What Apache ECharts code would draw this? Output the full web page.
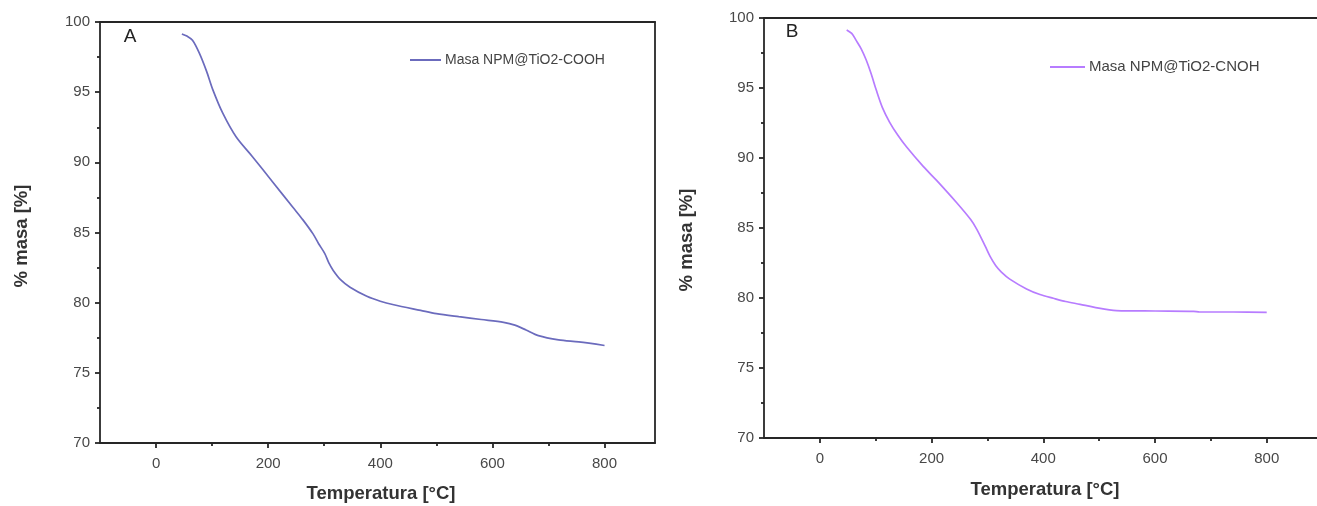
<!DOCTYPE html>
<html>
<head>
<meta charset="utf-8">
<title>TGA NPM@TiO2</title>
<script src="https://cdn.jsdelivr.net/npm/echarts@6/dist/echarts.min.js"></script>
<style>
  html, body { margin: 0; padding: 0; background: #ffffff; }
  #chart { width: 1317px; height: 506px; }
</style>
</head>
<body>
<div id="chart"></div>
<script>
// Thermogravimetric curves: temperature [°C] vs. remaining mass [%]
const seriesNameA = 'Masa NPM@TiO2-COOH';
const seriesNameB = 'Masa NPM@TiO2-CNOH';

const tempA = [46, 55, 65, 77, 90, 101, 119, 143, 172, 208, 244, 262, 280, 290, 301, 308, 316, 330, 346, 376, 400, 424, 472, 500, 540, 580, 620, 640, 660, 682, 718, 754, 800];
const massA = [99.15, 99.0, 98.7, 97.8, 96.5, 95.2, 93.5, 91.8, 90.4, 88.6, 86.8, 85.9, 84.9, 84.2, 83.5, 82.85, 82.3, 81.6, 81.1, 80.45, 80.1, 79.85, 79.45, 79.22, 79.0, 78.8, 78.6, 78.4, 78.05, 77.65, 77.35, 77.2, 76.95];

const tempB = [48, 57, 65, 74, 83, 92, 101, 112, 125, 140, 155, 185, 209, 245, 270, 281, 296, 305, 315, 325, 340, 370, 394, 418, 440, 466, 490, 531, 600, 669, 680, 740, 800];
const massB = [99.15, 98.9, 98.4, 97.8, 97.0, 96.0, 94.85, 93.6, 92.55, 91.6, 90.8, 89.4, 88.4, 86.8, 85.6, 84.9, 83.7, 82.95, 82.3, 81.85, 81.35, 80.65, 80.25, 79.98, 79.75, 79.55, 79.35, 79.1, 79.07, 79.05, 79.0, 79.0, 78.98];

const xMajorTicks = [0, 200, 400, 600, 800];
const xMinorTicks = [100, 300, 500, 700];
const xRange = [-100, 890];
const yRange = [70, 100];
const yStep = 5;

const xTitle = 'Temperatura [°C]';
const yTitle = '% masa [%]';
const panelLabels = ['A', 'B'];

const colorA = '#6b6bbd';
const colorB = '#b77cff';
const axisColor = '#262626';
const labelColor = '#484848';
const titleColor = '#333333';
const font = '"Liberation Sans", Arial, sans-serif';

function zip(xs, ys) { return xs.map((x, i) => [x, ys[i]]); }

const grids = [
  { left: 100, top: 22, width: 555, height: 421 },
  { left: 764, top: 18, width: 553, height: 420 }
];

const xAxes = [];
const yAxes = [];
grids.forEach((g, gi) => {
  // bottom axis: major ticks with labels
  xAxes.push({
    type: 'value', gridIndex: gi, position: 'bottom', min: xRange[0], max: xRange[1],
    axisLine: { show: true, onZero: false, lineStyle: { color: axisColor, width: 1.8 } },
    axisTick: { show: true, inside: false, length: 5, customValues: xMajorTicks, lineStyle: { color: axisColor, width: 1.8 } },
    axisLabel: { show: true, customValues: xMajorTicks, color: labelColor, fontFamily: font, fontSize: 15, margin: 13 },
    splitLine: { show: false }
  });
  // bottom axis: minor ticks
  xAxes.push({
    type: 'value', gridIndex: gi, position: 'bottom', min: xRange[0], max: xRange[1],
    axisLine: { show: false },
    axisTick: { show: true, inside: false, length: 3, customValues: xMinorTicks, lineStyle: { color: axisColor, width: 1.8 } },
    axisLabel: { show: false },
    splitLine: { show: false }
  });
  // top frame line
  xAxes.push({
    type: 'value', gridIndex: gi, position: 'top', min: xRange[0], max: xRange[1],
    axisLine: { show: true, onZero: false, lineStyle: { color: axisColor, width: 1.8 } },
    axisTick: { show: false }, axisLabel: { show: false }, splitLine: { show: false }
  });
  yAxes.push({
    type: 'value', gridIndex: gi, position: 'left', min: yRange[0], max: yRange[1], interval: yStep,
    axisLine: { show: true, onZero: false, lineStyle: { color: axisColor, width: 1.8 } },
    axisTick: { show: true, inside: false, length: 5, lineStyle: { color: axisColor, width: 1.8 } },
    minorTick: { show: true, splitNumber: 2, length: 3, lineStyle: { color: axisColor, width: 1.8 } },
    axisLabel: { color: labelColor, fontFamily: font, fontSize: 15, margin: 10 },
    splitLine: { show: false }
  });
  if (gi === 0) {
    // right frame line of the first panel
    yAxes.push({
      type: 'value', gridIndex: gi, position: 'right', min: yRange[0], max: yRange[1],
      axisLine: { show: true, onZero: false, lineStyle: { color: axisColor, width: 1.8 } },
      axisTick: { show: false }, axisLabel: { show: false }, splitLine: { show: false }
    });
  }
});

const chart = echarts.init(document.getElementById('chart'), null, { renderer: 'canvas' });

const option = {
  backgroundColor: '#ffffff',
  animation: false,
  grid: grids,
  xAxis: xAxes,
  yAxis: yAxes,
  legend: [
    {
      data: [seriesNameA], left: 410, top: 52, padding: 0, icon: 'rect', itemWidth: 31, itemHeight: 2, itemGap: 5,
      textStyle: { color: '#444', fontFamily: font, fontSize: 14, lineHeight: 16, padding: [0, 0, 0, -1] }
    },
    {
      data: [seriesNameB], left: 1050, top: 59, padding: 0, icon: 'rect', itemWidth: 35, itemHeight: 2, itemGap: 5,
      textStyle: { color: '#444', fontFamily: font, fontSize: 15, lineHeight: 16, padding: [0, 0, 0, -1] }
    }
  ],
  series: [
    {
      name: seriesNameA, type: 'line', xAxisIndex: 0, yAxisIndex: 0,
      data: zip(tempA, massA), smooth: 0.3, showSymbol: false,
      lineStyle: { color: colorA, width: 1.7 }, itemStyle: { color: colorA }
    },
    {
      name: seriesNameB, type: 'line', xAxisIndex: 3, yAxisIndex: 2,
      data: zip(tempB, massB), smooth: 0.3, showSymbol: false,
      lineStyle: { color: colorB, width: 1.7 }, itemStyle: { color: colorB }
    }
  ],
  graphic: [
    { type: 'text', x: 130, y: 37, style: { text: panelLabels[0], fill: '#222', font: '19px ' + font, align: 'center', verticalAlign: 'middle' } },
    { type: 'text', x: 792, y: 32, style: { text: panelLabels[1], fill: '#222', font: '19px ' + font, align: 'center', verticalAlign: 'middle' } },
    { type: 'text', x: 381, y: 494, style: { text: xTitle, fill: titleColor, font: 'bold 18.5px ' + font, align: 'center', verticalAlign: 'middle' } },
    { type: 'text', x: 1045, y: 490, style: { text: xTitle, fill: titleColor, font: 'bold 18.5px ' + font, align: 'center', verticalAlign: 'middle' } },
    { type: 'text', x: 22, y: 236, rotation: Math.PI / 2, style: { text: yTitle, fill: titleColor, font: 'bold 18.5px ' + font, align: 'center', verticalAlign: 'middle' } },
    { type: 'text', x: 687, y: 240, rotation: Math.PI / 2, style: { text: yTitle, fill: titleColor, font: 'bold 18.5px ' + font, align: 'center', verticalAlign: 'middle' } }
  ]
};

chart.setOption(option);
</script>
</body>
</html>
